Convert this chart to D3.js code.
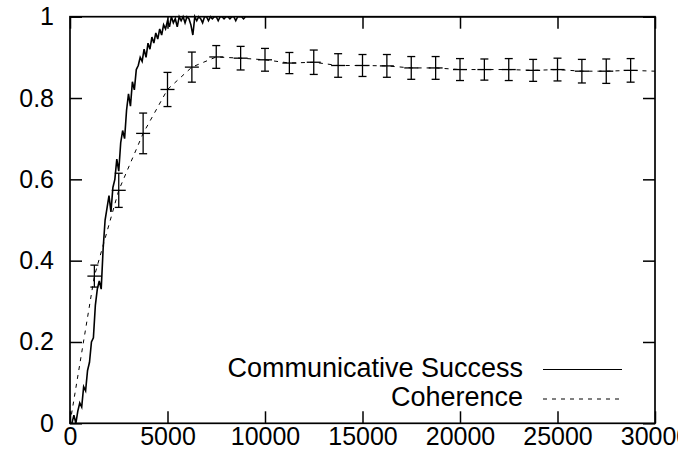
<!DOCTYPE html>
<html>
<head>
<meta charset="utf-8">
<script src="https://cdn.jsdelivr.net/npm/d3@7"></script>
<style>
  html, body { margin: 0; padding: 0; background: #fff; }
  svg { display: block; }
  text { font-family: "Liberation Sans", Arial, Helvetica, sans-serif; fill: #000; }
</style>
</head>
<body>
<svg id="chart" width="678" height="468"></svg>
<script>
// Communicative success, sampled every 100 games up to 10000, then flat to 30000
const successSteps = [
  0, 100, 200, 300, 400, 500, 600, 700, 800, 900,
  1000, 1100, 1200, 1300, 1400, 1500, 1600, 1700, 1800, 1900,
  2000, 2100, 2200, 2300, 2400, 2500, 2600, 2700, 2800, 2900,
  3000, 3100, 3200, 3300, 3400, 3500, 3600, 3700, 3800, 3900,
  4000, 4100, 4200, 4300, 4400, 4500, 4600, 4700, 4800, 4900,
  5000, 5100, 5200, 5300, 5400, 5500, 5600, 5700, 5800, 5900,
  6000, 6100, 6200, 6300, 6400, 6500, 6600, 6700, 6800, 6900,
  7000, 7100, 7200, 7300, 7400, 7500, 7600, 7700, 7800, 7900,
  8000, 8100, 8200, 8300, 8400, 8500, 8600, 8700, 8800, 8900,
  9000, 9500, 10000, 30000
];
const successValues = [
  0.000, 0.000, 0.020, 0.000, 0.030, 0.050, 0.040, 0.090, 0.080, 0.130,
  0.150, 0.200, 0.210, 0.290, 0.330, 0.350, 0.330, 0.430, 0.500, 0.530,
  0.560, 0.520, 0.580, 0.600, 0.650, 0.620, 0.690, 0.720, 0.700, 0.770,
  0.810, 0.780, 0.840, 0.820, 0.870, 0.880, 0.900, 0.890, 0.920, 0.900,
  0.935, 0.920, 0.950, 0.935, 0.960, 0.945, 0.970, 0.955, 0.980, 0.970,
  0.990, 0.975, 1.000, 0.985, 0.995, 0.975, 1.000, 0.990, 1.000, 0.985,
  1.000, 0.995, 0.980, 0.955, 1.000, 0.990, 1.000, 0.995, 0.985, 1.000,
  1.000, 0.990, 1.000, 0.995, 1.000, 1.000, 0.990, 1.000, 1.000, 0.995,
  1.000, 1.000, 0.995, 1.000, 1.000, 0.990, 1.000, 1.000, 1.000, 0.995,
  1.000, 1.000, 1.000, 1.000
];

// Coherence, averaged every 1250 games, with its spread
const coherenceSteps = [
  0, 1250, 2500, 3750, 5000, 6250, 7500, 8750, 10000, 11250,
  12500, 13750, 15000, 16250, 17500, 18750, 20000, 21250, 22500, 23750,
  25000, 26250, 27500, 28750, 30000
];
const coherenceValues = [
  0.000, 0.362, 0.573, 0.713, 0.821, 0.876, 0.901, 0.898, 0.894, 0.886,
  0.888, 0.880, 0.880, 0.879, 0.874, 0.874, 0.870, 0.870, 0.870, 0.868,
  0.870, 0.866, 0.866, 0.868, 0.866
];
const coherenceErrors = [
  0.000, 0.027, 0.042, 0.050, 0.042, 0.037, 0.028, 0.029, 0.028, 0.026,
  0.030, 0.029, 0.027, 0.028, 0.028, 0.028, 0.027, 0.026, 0.027, 0.027,
  0.028, 0.029, 0.030, 0.029, null
];

const xTicks = [0, 5000, 10000, 15000, 20000, 25000, 30000];
const xTickLabels = ["0", "5000", "10000", "15000", "20000", "25000", "30000"];
const yTicks = [0, 0.2, 0.4, 0.6, 0.8, 1];
const yTickLabels = ["0", "0.2", "0.4", "0.6", "0.8", "1"];

const seriesNames = ["Communicative Success", "Coherence"];

const svg = d3.select("#chart");
const plotLeft = 70, plotRight = 655, plotTop = 16.7, plotBottom = 423.3;
const x = d3.scaleLinear().domain([0, 30000]).range([plotLeft, plotRight]);
const y = d3.scaleLinear().domain([0, 1]).range([plotBottom, plotTop]);
const tickLen = 12;
const tickFont = 25;

// inward ticks on all four sides, labels on bottom and left only
const xLabel = d => xTickLabels[xTicks.indexOf(d)];
const yLabel = d => yTickLabels[yTicks.indexOf(d)];

function styleAxis(g) {
  g.select(".domain").remove();
  g.selectAll(".tick line").attr("stroke", "#000").attr("stroke-width", 1.5);
  g.selectAll(".tick text").attr("font-size", tickFont).attr("font-family", null);
}

svg.append("g")
  .attr("transform", `translate(0,${plotBottom})`)
  .call(d3.axisBottom(x).tickValues(xTicks).tickFormat(xLabel).tickSize(-tickLen).tickPadding(4))
  .call(styleAxis);
svg.append("g")
  .attr("transform", `translate(0,${plotTop})`)
  .call(d3.axisTop(x).tickValues(xTicks).tickFormat("").tickSize(-tickLen))
  .call(styleAxis);
svg.append("g")
  .attr("transform", `translate(${plotLeft},0)`)
  .call(d3.axisLeft(y).tickValues(yTicks).tickFormat(yLabel).tickSize(-tickLen).tickPadding(16))
  .call(styleAxis);
svg.append("g")
  .attr("transform", `translate(${plotRight},0)`)
  .call(d3.axisRight(y).tickValues(yTicks).tickFormat("").tickSize(-tickLen))
  .call(styleAxis);

// plot frame
svg.append("rect")
  .attr("x", plotLeft).attr("y", plotTop)
  .attr("width", plotRight - plotLeft).attr("height", plotBottom - plotTop)
  .attr("fill", "none").attr("stroke", "#000").attr("stroke-width", 1.7);

const successData = successSteps.map((s, i) => ({ s, v: successValues[i] }));
const coherenceData = coherenceSteps.map((s, i) => ({ s, v: coherenceValues[i], e: coherenceErrors[i] }));

const line = d3.line().x(d => x(d.s)).y(d => y(d.v));

// coherence: dashed line with error bars
svg.append("path")
  .datum(coherenceData)
  .attr("d", line)
  .attr("fill", "none")
  .attr("stroke", "#000")
  .attr("stroke-width", 1)
  .attr("stroke-dasharray", "4,5");

const bars = svg.append("g")
  .selectAll("g")
  .data(coherenceData.filter(d => d.e))
  .join("g")
  .attr("stroke", "#000")
  .attr("stroke-width", 1.3);
bars.append("line")
  .attr("x1", d => x(d.s)).attr("x2", d => x(d.s))
  .attr("y1", d => y(d.v + d.e)).attr("y2", d => y(d.v - d.e));
bars.append("line")
  .attr("x1", d => x(d.s) - 4).attr("x2", d => x(d.s) + 4)
  .attr("y1", d => y(d.v + d.e)).attr("y2", d => y(d.v + d.e));
bars.append("line")
  .attr("x1", d => x(d.s) - 4).attr("x2", d => x(d.s) + 4)
  .attr("y1", d => y(d.v - d.e)).attr("y2", d => y(d.v - d.e));
bars.append("line")
  .attr("x1", d => x(d.s) - 7).attr("x2", d => x(d.s) + 7)
  .attr("y1", d => y(d.v)).attr("y2", d => y(d.v));

// communicative success: solid line
svg.append("path")
  .datum(successData)
  .attr("d", line)
  .attr("fill", "none")
  .attr("stroke", "#000")
  .attr("stroke-width", 1.6)
  .attr("stroke-linejoin", "miter");

// legend
const legend = svg.append("g");
const legendRows = [
  { name: seriesNames[0], base: 377, lineY: 369.5, dash: null },
  { name: seriesNames[1], base: 405.5, lineY: 399, dash: "4,5" }
];
legendRows.forEach(r => {
  legend.append("text")
    .attr("x", 523).attr("y", r.base)
    .attr("text-anchor", "end")
    .attr("font-size", 27)
    .text(r.name);
  legend.append("line")
    .attr("x1", 543).attr("x2", 622)
    .attr("y1", r.lineY).attr("y2", r.lineY)
    .attr("stroke", "#000").attr("stroke-width", 1)
    .attr("stroke-dasharray", r.dash);
});
</script>
</body>
</html>
